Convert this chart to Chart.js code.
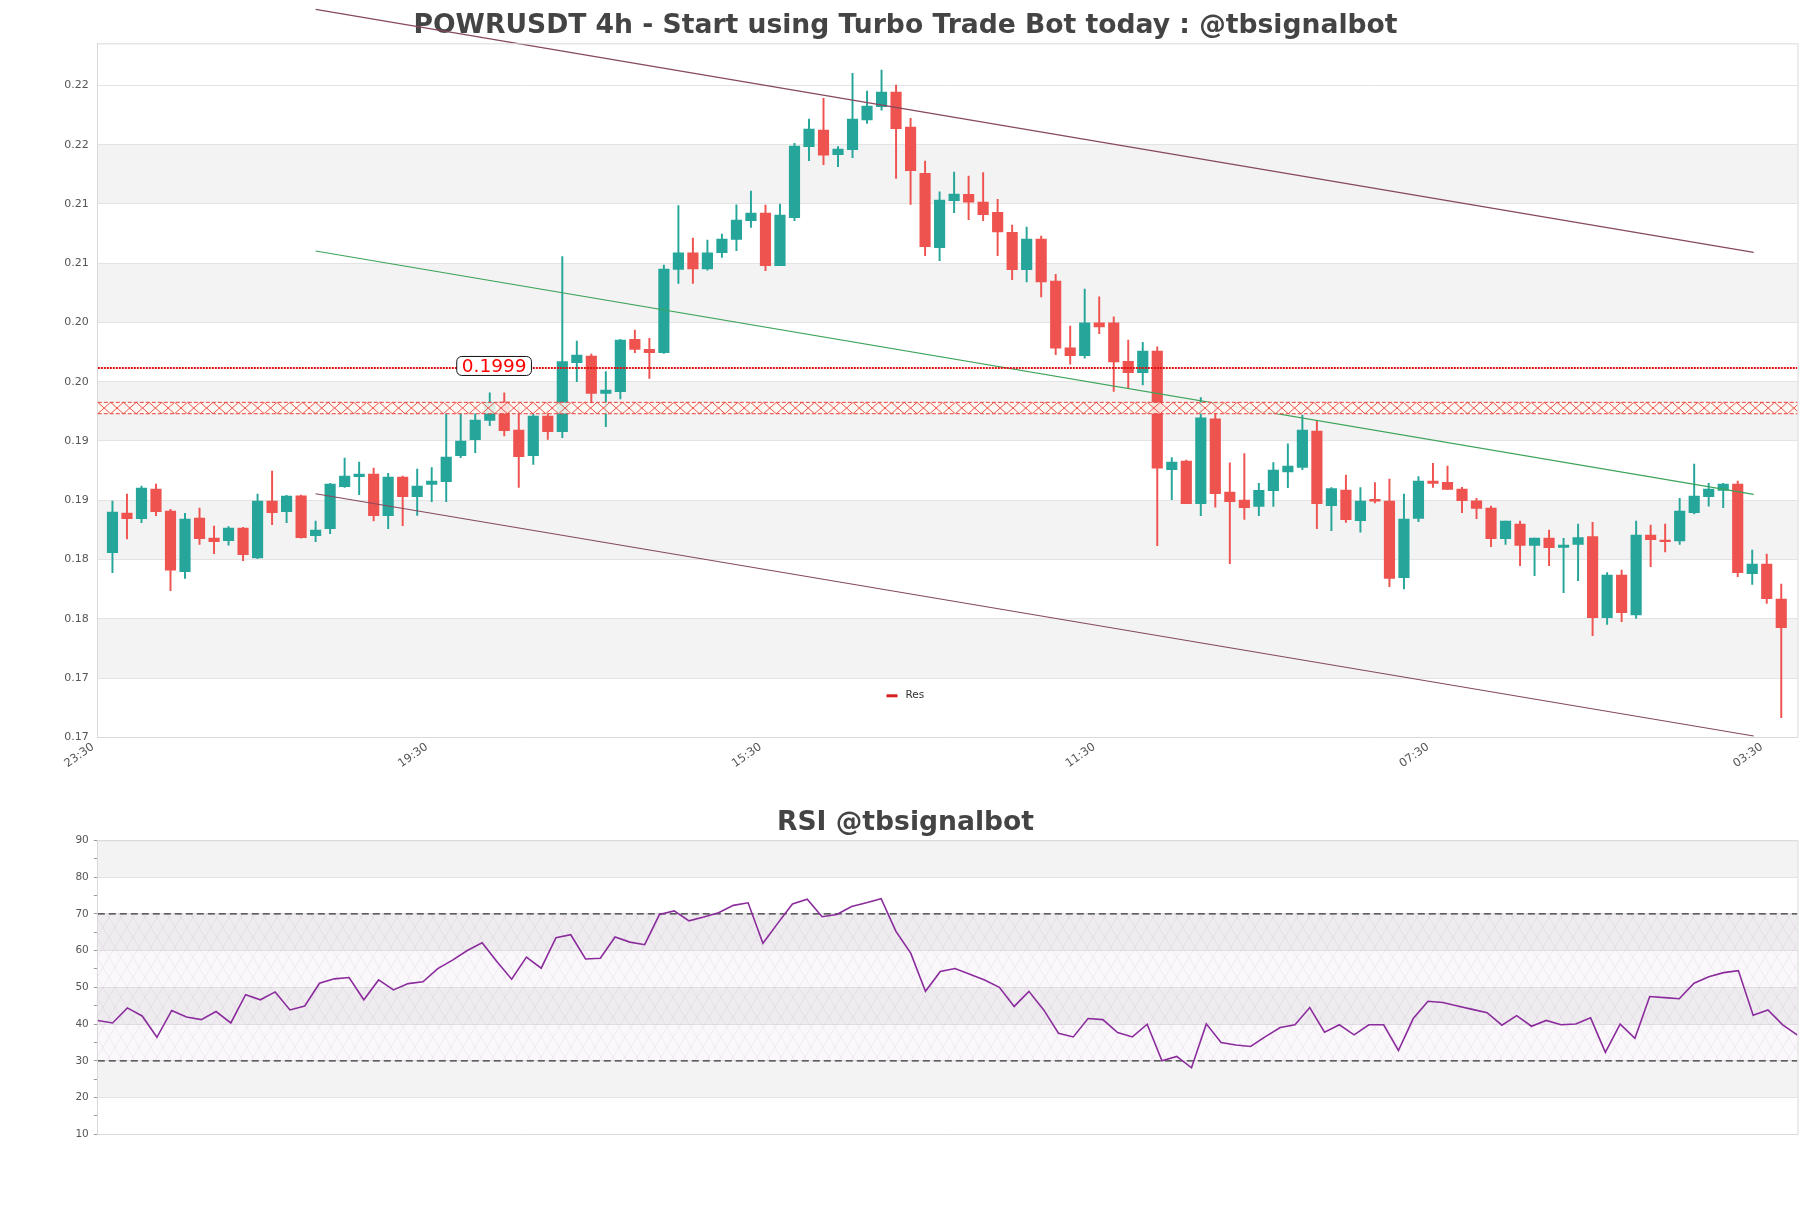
<!DOCTYPE html>
<html>
<head>
<meta charset="utf-8">
<title>POWRUSDT 4h</title>
<script src="https://cdn.jsdelivr.net/npm/chart.js@4.4.1/dist/chart.umd.min.js"></script>
<style>
  html, body { margin: 0; padding: 0; background: #fff; }
  #wrap { position: relative; width: 1811px; height: 1208px; }
  #priceChart { position: absolute; left: 0; top: 0; }
  #rsiChart { position: absolute; left: 0; top: 780px; }
</style>
</head>
<body>
<div id="wrap">
  <canvas id="priceChart" width="1811" height="780"></canvas>
  <canvas id="rsiChart" width="1811" height="428"></canvas>
</div>
<script>
// --- data ---
const timeLabels = ['23:30', '19:30', '15:30', '11:30', '07:30', '03:30'];
const timeTickAt = [-1, 22, 45, 68, 91, 114];

const open = [
  0.18432, 0.18766, 0.18718, 0.18969, 0.18783, 0.18271, 0.18724, 0.18555, 0.18533, 0.18640,
  0.18387, 0.18867, 0.18778, 0.18912, 0.18575, 0.18634, 0.18988, 0.19073, 0.19095, 0.18744,
  0.19070, 0.18904, 0.19008, 0.19031, 0.19250, 0.19385, 0.19548, 0.19703, 0.19466, 0.19250,
  0.19585, 0.19452, 0.20034, 0.20091, 0.19776, 0.19790, 0.20231, 0.20147, 0.20119, 0.20822,
  0.20962, 0.20825, 0.20962, 0.21075, 0.21232, 0.21297, 0.20853, 0.21258, 0.21857, 0.21997,
  0.21789, 0.21831, 0.22082, 0.22194, 0.22318, 0.22023, 0.21632, 0.21005, 0.21401, 0.21455,
  0.21389, 0.21304, 0.21135, 0.20819, 0.21078, 0.20723, 0.20159, 0.20093, 0.20370, 0.20370,
  0.20045, 0.19951, 0.20132, 0.19132, 0.19204, 0.18846, 0.19560, 0.18942, 0.18876, 0.18821,
  0.18954, 0.19114, 0.19150, 0.19457, 0.18828, 0.18960, 0.18701, 0.18882, 0.18867, 0.18221,
  0.18721, 0.19036, 0.19025, 0.18969, 0.18870, 0.18808, 0.18550, 0.18673, 0.18493, 0.18555,
  0.18477, 0.18502, 0.18567, 0.17883, 0.18243, 0.17906, 0.18581, 0.18538, 0.18530, 0.18769,
  0.18904, 0.18957, 0.19011, 0.18254, 0.18336, 0.18041
];
const high = [
  0.18867, 0.18927, 0.18994, 0.19011, 0.18797, 0.18763, 0.18808, 0.18657, 0.18651, 0.18645,
  0.18927, 0.19121, 0.18915, 0.18918, 0.18699, 0.19017, 0.19230, 0.19196, 0.19146, 0.19101,
  0.19078, 0.19137, 0.19149, 0.19607, 0.19610, 0.19607, 0.19781, 0.19781, 0.19663, 0.19601,
  0.19630, 0.20929, 0.20217, 0.20108, 0.19959, 0.20231, 0.20310, 0.20240, 0.20858, 0.21359,
  0.21086, 0.21069, 0.21120, 0.21367, 0.21483, 0.21365, 0.21373, 0.21885, 0.22090, 0.22264,
  0.21857, 0.22475, 0.22326, 0.22503, 0.22377, 0.22096, 0.21736, 0.21477, 0.21643, 0.21609,
  0.21639, 0.21413, 0.21196, 0.21178, 0.21102, 0.20780, 0.20343, 0.20656, 0.20590, 0.20421,
  0.20226, 0.20207, 0.20168, 0.19234, 0.19213, 0.19740, 0.19701, 0.19189, 0.19267, 0.19017,
  0.19192, 0.19349, 0.19593, 0.19545, 0.18981, 0.19087, 0.18981, 0.19023, 0.19053, 0.18927,
  0.19073, 0.19185, 0.19163, 0.18983, 0.18890, 0.18825, 0.18699, 0.18699, 0.18555, 0.18623,
  0.18553, 0.18673, 0.18688, 0.18263, 0.18285, 0.18699, 0.18665, 0.18673, 0.18890, 0.19180,
  0.19017, 0.19017, 0.19036, 0.18454, 0.18420, 0.18167
];
const low = [
  0.18263, 0.18547, 0.18685, 0.18744, 0.18111, 0.18215, 0.18502, 0.18423, 0.18496, 0.18364,
  0.18381, 0.18668, 0.18685, 0.18555, 0.18524, 0.18592, 0.18983, 0.18921, 0.18699, 0.18634,
  0.18659, 0.18747, 0.18862, 0.18862, 0.19233, 0.19275, 0.19503, 0.19416, 0.18983, 0.19177,
  0.19388, 0.19402, 0.19874, 0.19691, 0.19495, 0.19728, 0.20119, 0.19902, 0.20113, 0.20704,
  0.20704, 0.20816, 0.20923, 0.20979, 0.21176, 0.20811, 0.20853, 0.21232, 0.21739, 0.21705,
  0.21688, 0.21764, 0.22053, 0.22166, 0.21589, 0.21370, 0.20937, 0.20895, 0.21300, 0.21241,
  0.21232, 0.20937, 0.20735, 0.20717, 0.20590, 0.20102, 0.20021, 0.20072, 0.20280, 0.19792,
  0.19816, 0.19846, 0.18490, 0.18879, 0.18846, 0.18743, 0.18815, 0.18339, 0.18713, 0.18743,
  0.18821, 0.18981, 0.19132, 0.18635, 0.18617, 0.18686, 0.18605, 0.18852, 0.18145, 0.18125,
  0.18693, 0.18983, 0.18966, 0.18769, 0.18718, 0.18482, 0.18502, 0.18322, 0.18238, 0.18322,
  0.18094, 0.18195, 0.17731, 0.17827, 0.17850, 0.17878, 0.18314, 0.18437, 0.18502, 0.18758,
  0.18825, 0.18811, 0.18229, 0.18164, 0.18004, 0.17040
];
const close = [
  0.18775, 0.18718, 0.18977, 0.18778, 0.18283, 0.18716, 0.18550, 0.18524, 0.18640, 0.18415,
  0.18867, 0.18769, 0.18910, 0.18558, 0.18623, 0.19011, 0.19078, 0.19095, 0.18744, 0.19070,
  0.18904, 0.18994, 0.19036, 0.19239, 0.19374, 0.19551, 0.19697, 0.19461, 0.19241, 0.19585,
  0.19452, 0.20043, 0.20099, 0.19776, 0.19804, 0.20226, 0.20147, 0.20119, 0.20825, 0.20962,
  0.20825, 0.20962, 0.21078, 0.21238, 0.21297, 0.20853, 0.21280, 0.21862, 0.22006, 0.21786,
  0.21837, 0.22090, 0.22200, 0.22318, 0.22008, 0.21654, 0.21013, 0.21407, 0.21457, 0.21389,
  0.21283, 0.21138, 0.20819, 0.21078, 0.20717, 0.20156, 0.20093, 0.20370, 0.20337, 0.20042,
  0.19951, 0.20132, 0.19144, 0.19195, 0.18846, 0.19569, 0.18930, 0.18861, 0.18812, 0.18957,
  0.19129, 0.19162, 0.19466, 0.18846, 0.18972, 0.18710, 0.18867, 0.18867, 0.18215, 0.18716,
  0.19036, 0.19017, 0.18966, 0.18870, 0.18806, 0.18550, 0.18699, 0.18493, 0.18555, 0.18474,
  0.18496, 0.18558, 0.17883, 0.18243, 0.17925, 0.18581, 0.18541, 0.18524, 0.18783, 0.18910,
  0.18969, 0.19011, 0.18263, 0.18336, 0.18044, 0.17799
];

// price axis
const priceTicks = [0.16874, 0.17374, 0.17874, 0.18374, 0.18874, 0.19374,
                    0.19874, 0.20374, 0.20874, 0.21374, 0.21874, 0.22374];
const priceMin = 0.16874;
const priceMax = 0.22729;

// resistance level, zone and trend lines
const resLevel = 0.1999;
const resLabelAt = 26.3;
const resZone = [0.19604, 0.19700];
const upperChannel = [{ x: 14, y: 0.23015 }, { x: 113.1, y: 0.20966 }];
const lowerChannel = [{ x: 14, y: 0.18929 }, { x: 113.1, y: 0.16885 }];
const greenTrend   = [{ x: 14, y: 0.20977 }, { x: 113.1, y: 0.18924 }];

// RSI
const rsi = [
  40.95, 40.3, 44.4, 42.2, 36.4, 43.7, 41.9, 41.2, 43.4, 40.3,
  48.0, 46.6, 48.75, 43.85, 44.9, 51.1, 52.3, 52.65, 46.6, 52.0,
  49.3, 51.0, 51.5, 55.1, 57.4, 60.0, 62.1, 57.0, 52.2, 58.2,
  55.2, 63.5, 64.3, 57.7, 57.9, 63.7, 62.3, 61.6, 69.8, 70.8,
  68.1, 69.15, 70.3, 72.3, 73.0, 62.0, 67.4, 72.7, 74.0, 69.2,
  69.8, 72.0, 73.0, 74.1, 65.2, 59.3, 48.9, 54.3, 55.1, 53.55,
  52.0, 50.0, 44.8, 48.9, 43.85, 37.5, 36.5, 41.5, 41.2, 37.7,
  36.5, 39.95, 30.0, 31.2, 28.1, 40.05, 35.0, 34.3, 33.9, 36.6,
  39.05, 39.8, 44.5, 37.8, 39.8, 37.05, 39.8, 39.8, 32.8, 41.5,
  46.2, 45.85, 44.9, 44.0, 43.1, 39.7, 42.3, 39.4, 41.0, 39.8,
  40.0, 41.7, 32.3, 40.0, 36.15, 47.5, 47.2, 46.9, 51.1, 52.9,
  54.0, 54.55, 42.4, 43.85, 39.8, 37.0
];
const rsiLevels = [70, 30];

// --- shared look ---
Chart.defaults.font.family = '"DejaVu Sans", sans-serif';
Chart.defaults.animation = false;
Chart.defaults.plugins.tooltip.enabled = false;
Chart.defaults.plugins.legend.display = false;

const UP = '#26a69a';
const DOWN = '#ef5350';
const GRID = '#e3e3e3';
const EDGE = '#d9d9d9';
const TICK = '#555';

// grey stripes between every other labelled tick
const stripes = {
  id: 'stripes',
  beforeDraw(chart) {
    const { ctx, chartArea: a } = chart;
    const ys = chart.scales.y;
    const t = ys.ticks.filter(k => k.label !== '');
    ctx.save();
    ctx.fillStyle = '#f3f3f3';
    for (let k = 1; k + 1 < t.length; k += 2) {
      const y1 = ys.getPixelForValue(t[k].value);
      const y2 = ys.getPixelForValue(t[k + 1].value);
      ctx.fillRect(a.left, y2, a.right - a.left, y1 - y2);
    }
    ctx.restore();
  },
  afterDraw(chart) {
    // top and right edge of the plot
    const { ctx, chartArea: a } = chart;
    ctx.save();
    ctx.strokeStyle = EDGE;
    ctx.lineWidth = 1;
    ctx.beginPath();
    ctx.moveTo(a.left, a.top + 0.5);
    ctx.lineTo(a.right + 0.5, a.top + 0.5);
    ctx.lineTo(a.right + 0.5, a.bottom);
    ctx.stroke();
    ctx.restore();
  }
};

// hatched resistance zone, level tag and the small legend
const resistance = {
  id: 'resistance',
  afterDatasetsDraw(chart) {
    const { ctx, chartArea: a, scales: { x, y } } = chart;
    const top = y.getPixelForValue(resZone[1]);
    const bot = y.getPixelForValue(resZone[0]);
    const step = 12.8;

    ctx.save();
    ctx.beginPath();
    ctx.rect(a.left, top, a.right - a.left, bot - top);
    ctx.clip();
    ctx.fillStyle = 'rgba(255,250,242,0.85)';
    ctx.fillRect(a.left, top, a.right - a.left, bot - top);
    ctx.strokeStyle = '#e8403a';
    ctx.lineWidth = 0.9;
    ctx.beginPath();
    for (let px = a.left; px < a.right; px += step) {
      ctx.moveTo(px, top); ctx.lineTo(px + step, bot);
      ctx.moveTo(px + step, top); ctx.lineTo(px, bot);
    }
    ctx.stroke();
    ctx.restore();

    ctx.save();
    ctx.strokeStyle = '#e8403a';
    ctx.lineWidth = 1;
    ctx.setLineDash([4, 2]);
    ctx.beginPath();
    ctx.moveTo(a.left, top); ctx.lineTo(a.right, top);
    ctx.moveTo(a.left, bot); ctx.lineTo(a.right, bot);
    ctx.stroke();
    ctx.restore();

    // tag on the level line
    const cx = x.getPixelForValue(resLabelAt);
    const cy = y.getPixelForValue(resLevel);
    const text = resLevel.toFixed(4);
    ctx.save();
    ctx.font = '18.5px "DejaVu Sans"';
    const bw = ctx.measureText(text).width + 10;
    const bh = 19;
    ctx.beginPath();
    ctx.roundRect(cx - bw / 2, cy - bh / 2 - 2, bw, bh, 5);
    ctx.fillStyle = '#fff';
    ctx.fill();
    ctx.strokeStyle = '#111';
    ctx.lineWidth = 1;
    ctx.stroke();
    ctx.fillStyle = '#ff0000';
    ctx.textAlign = 'center';
    ctx.textBaseline = 'middle';
    ctx.fillText(text, cx, cy - 1);
    ctx.restore();

    // legend entry inside the plot, bottom centre
    const lx = chart.width / 2;
    const ly = a.bottom - 42;
    ctx.save();
    ctx.fillStyle = '#d62020';
    ctx.fillRect(lx - 19, ly - 1, 11, 3);
    ctx.font = '10.5px "DejaVu Sans"';
    ctx.fillStyle = '#333';
    ctx.textBaseline = 'middle';
    ctx.fillText('Res', lx, ly);
    ctx.restore();
  }
};

// --- price chart ---
const idx = open.map((_, i) => i);
const candleColor = close.map((c, i) => (c >= open[i] ? UP : DOWN));

new Chart(document.getElementById('priceChart'), {
  type: 'bar',
  data: {
    datasets: [
      {
        label: 'level',
        type: 'line',
        data: [{ x: -1.01, y: resLevel }, { x: 116.12, y: resLevel }],
        borderColor: '#e01010',
        borderWidth: 2,
        borderDash: [2, 1],
        pointRadius: 0,
        order: 1
      },
      {
        label: 'upper',
        type: 'line',
        data: upperChannel,
        borderColor: '#86485d',
        borderWidth: 1.2,
        pointRadius: 0,
        clip: false,
        order: 1
      },
      {
        label: 'lower',
        type: 'line',
        data: lowerChannel,
        borderColor: '#86485d',
        borderWidth: 1.2,
        pointRadius: 0,
        clip: false,
        order: 1
      },
      {
        label: 'trend',
        type: 'line',
        data: greenTrend,
        borderColor: '#3da35a',
        borderWidth: 1.2,
        pointRadius: 0,
        order: 1
      },
      {
        label: 'body',
        data: idx.map(i => ({ x: i, y: [open[i], close[i]] })),
        backgroundColor: candleColor,
        barThickness: 10.5,
        minBarLength: 1.5,
        grouped: false,
        order: 2
      },
      {
        label: 'wick',
        data: idx.map(i => ({ x: i, y: [low[i], high[i]] })),
        backgroundColor: candleColor,
        barThickness: 1.3,
        grouped: false,
        order: 3
      }
    ]
  },
  options: {
    responsive: false,
    devicePixelRatio: 1,
    // equal side padding keeps the title centred on the page
    layout: { padding: { left: 13.5, right: 13.5 } },
    plugins: {
      title: {
        display: true,
        text: 'POWRUSDT 4h - Start using Turbo Trade Bot today : @tbsignalbot',
        color: '#444',
        font: { size: 26.6, weight: 'bold' },
        padding: { top: 10.5, bottom: 0.9 }
      }
    },
    scales: {
      x: {
        type: 'linear',
        min: -1.01,
        max: 116.12,
        offset: false,
        grid: { display: false, drawTicks: false, offset: false },
        border: { display: true, color: EDGE },
        afterBuildTicks: s => { s.ticks = timeTickAt.map(v => ({ value: v })); },
        ticks: {
          autoSkip: false,
          minRotation: 35,
          maxRotation: 35,
          padding: 3,
          labelOffset: -5,
          color: TICK,
          font: { size: 11.5 },
          callback: (v, i) => timeLabels[i]
        },
        afterFit: s => { s.height = 42.7; }
      },
      y: {
        min: priceMin,
        max: priceMax,
        afterBuildTicks: s => { s.ticks = priceTicks.map(v => ({ value: v })); },
        ticks: { color: TICK, font: { size: 11 }, padding: 9, callback: v => v.toFixed(2) },
        grid: { color: GRID, drawTicks: false },
        border: { display: true, color: EDGE },
        afterFit: s => { s.width = 84.3; }
      }
    }
  },
  plugins: [stripes, resistance]
});

// --- RSI chart ---
const rsiZone = {
  id: 'rsiZone',
  beforeDatasetsDraw(chart) {
    const { ctx, chartArea: a, scales: { y } } = chart;
    const top = y.getPixelForValue(rsiLevels[0]);
    const bot = y.getPixelForValue(rsiLevels[1]);
    const step = 12;
    const h = bot - top;
    ctx.save();
    ctx.beginPath();
    ctx.rect(a.left, top, a.right - a.left, h);
    ctx.clip();
    ctx.fillStyle = 'rgba(200,160,215,0.07)';
    ctx.fillRect(a.left, top, a.right - a.left, h);
    ctx.strokeStyle = 'rgba(150,110,165,0.18)';
    ctx.lineWidth = 0.6;
    ctx.beginPath();
    for (let px = a.left - h; px < a.right + h; px += step) {
      ctx.moveTo(px, top); ctx.lineTo(px + h * 0.6, bot);
      ctx.moveTo(px, bot); ctx.lineTo(px + h * 0.6, top);
    }
    ctx.stroke();
    ctx.restore();
  }
};

new Chart(document.getElementById('rsiChart'), {
  type: 'line',
  data: {
    datasets: [
      {
        label: 'RSI',
        data: rsi.map((v, j) => ({ x: j, y: v })),
        borderColor: '#8b2c9c',
        borderWidth: 1.6,
        pointRadius: 0,
        tension: 0
      },
      ...rsiLevels.map(l => ({
        label: 'level ' + l,
        data: [{ x: 0, y: l }, { x: rsi.length - 1, y: l }],
        borderColor: '#333',
        borderWidth: 1.2,
        borderDash: [7, 4],
        pointRadius: 0
      }))
    ]
  },
  options: {
    responsive: false,
    devicePixelRatio: 1,
    layout: { padding: { left: 13.5, right: 13.5 } },
    plugins: {
      title: {
        display: true,
        text: 'RSI @tbsignalbot',
        color: '#444',
        font: { size: 26.6, weight: 'bold' },
        padding: { top: 26.7, bottom: 1.7 }
      }
    },
    scales: {
      x: {
        type: 'linear',
        min: 0,
        max: rsi.length - 1,
        ticks: { display: false },
        grid: { display: false, drawTicks: false },
        border: { display: true, color: EDGE },
        afterFit: s => { s.height = 73.7; }
      },
      y: {
        min: 10,
        max: 90,
        ticks: {
          stepSize: 5,
          color: TICK,
          font: { size: 10.5 },
          padding: 5,
          callback: v => (v % 10 === 0 ? v : '')
        },
        grid: {
          color: c => (c.tick && c.tick.value % 10 === 0 ? GRID : 'rgba(0,0,0,0)'),
          tickColor: '#999',
          tickLength: 4
        },
        border: { display: true, color: EDGE },
        afterFit: s => { s.width = 84.3; }
      }
    }
  },
  plugins: [stripes, rsiZone]
});
</script>
</body>
</html>
